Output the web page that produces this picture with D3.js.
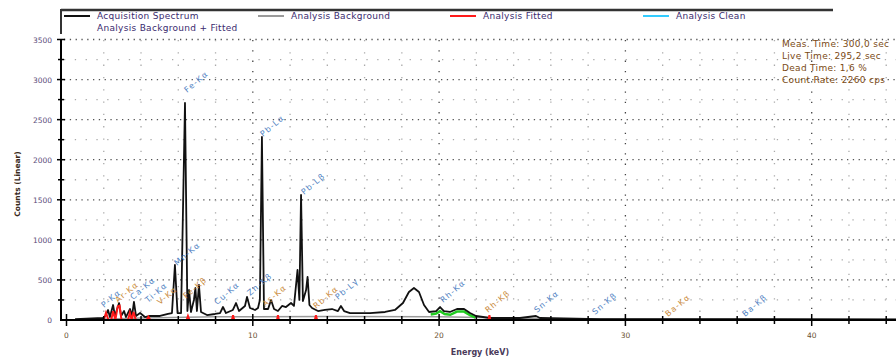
<!DOCTYPE html>
<html>
<head>
<meta charset="utf-8">
<script src="https://cdn.jsdelivr.net/npm/d3@7"></script>
<style>
  body { margin: 0; background: #fff; }
  svg { display: block; font-family: "DejaVu Sans", Verdana, sans-serif; }
</style>
</head>
<body>
<div id="chart"></div>
<script>
// acquisition spectrum (keV, counts)
const specEnergy = [0.46, 1.96, 2.12, 2.23, 2.33, 2.50, 2.60, 2.82, 2.93, 3.09, 3.19, 3.41, 3.52, 3.62, 3.73, 3.95, 4.21, 4.48, 5.02, 5.45, 5.66, 5.82, 5.96, 6.15, 6.36, 6.49, 6.58, 6.68, 6.84, 6.92, 7.00, 7.11, 7.22, 7.54, 7.97, 8.24, 8.40, 8.56, 8.93, 9.10, 9.26, 9.58, 9.69, 9.85, 10.12, 10.28, 10.38, 10.49, 10.60, 10.82, 10.98, 11.14, 11.35, 11.57, 11.78, 12.05, 12.21, 12.40, 12.50, 12.59, 12.69, 12.86, 12.94, 13.04, 13.18, 13.50, 13.87, 14.25, 14.57, 14.73, 14.90, 15.22, 16.29, 17.10, 17.63, 18.06, 18.38, 18.65, 18.92, 19.19, 19.46, 19.84, 20.05, 20.26, 20.58, 20.96, 21.34, 21.66, 21.98, 22.73, 24.34, 25.20, 25.41, 28.64, 29.71, 32.39, 34.00, 44.70];
const specCounts = [12, 25, 62, 125, 37, 187, 50, 212, 50, 112, 37, 137, 50, 225, 50, 87, 37, 50, 50, 75, 87, 686, 87, 87, 2708, 112, 374, 100, 250, 399, 112, 437, 100, 62, 75, 87, 162, 87, 125, 212, 112, 175, 287, 150, 125, 150, 250, 2284, 137, 137, 250, 137, 112, 175, 162, 212, 175, 624, 250, 1560, 237, 374, 537, 187, 150, 112, 125, 137, 112, 175, 112, 87, 87, 100, 125, 212, 349, 399, 349, 187, 100, 112, 162, 112, 100, 137, 137, 87, 50, 25, 25, 50, 25, 12, 12, 12, 12, 6];

// analysis background
const bgEnergy = [1.9, 4.0, 8.0, 14.0, 20.0, 26.0, 44.7];
const bgCounts = [10, 25, 40, 45, 40, 15, 5];

// analysis fitted
const fitEnergy = [2.00, 2.12, 2.25, 2.40, 2.50, 2.62, 2.75, 2.85, 2.95, 3.30, 3.40, 3.50, 3.60, 3.72, 4.30, 4.40, 4.50, 6.45, 6.52, 6.60, 8.88, 8.94, 9.00, 11.30, 11.35, 11.40, 13.33, 13.39, 13.45, 22.65, 22.70, 22.75, 44.70];
const fitCounts = [0, 90, 0, 0, 110, 0, 170, 180, 0, 0, 90, 0, 100, 0, 0, 40, 0, 0, 50, 0, 0, 60, 0, 0, 60, 0, 0, 60, 0, 0, 60, 0, 0];

// analysis background + fitted (only where it separates from the spectrum)
const bgFitEnergy = [19.55, 19.84, 20.05, 20.30, 20.60, 20.96, 21.34, 21.66, 21.95];
const bgFitCounts = [70, 80, 110, 75, 65, 105, 105, 60, 30];

// peak labels
const peakNames = ["P-Kα", "Ar-Kα", "Ca-Kα", "Ti-Kα", "V-Kα", "Mn-Kα", "Fe-Kα", "Fe-Kβ", "Cu-Kα", "Zn-Kβ", "As-Kα", "Pb-Lα", "Pb-Lβ", "Rb-Kα", "Pb-Lγ", "Rh-Kα", "Rh-Kβ", "Sn-Kα", "Sn-Kβ", "Ba-Kα", "Ba-Kβ"];
const peakEnergy = [2.01, 2.76, 3.57, 4.37, 5.02, 5.93, 6.47, 6.41, 8.08, 9.85, 10.65, 10.55, 12.75, 13.39, 14.57, 20.21, 22.62, 25.25, 28.37, 32.29, 36.42];
const peakCounts = [150, 212, 250, 212, 187, 674, 2833, 262, 187, 300, 162, 2284, 1560, 137, 250, 212, 87, 87, 62, 37, 37];

const yTicks = [0, 500, 1000, 1500, 2000, 2500, 3000, 3500];
const xTicks = [0, 10, 20, 30, 40];

const legendNames = ["Acquisition Spectrum", "Analysis Background", "Analysis Fitted", "Analysis Clean"];
const legendColors = ["#111", "#9a9a9a", "#ff1a1a", "#33ccff"];
const infoLines = ["Meas. Time: 300,0 sec", "Live Time: 295,2 sec", "Dead Time: 1,6 %", "Count Rate: 2260 cps"];

const width = 896;
const height = 360;

const svg = d3.select("#chart")
  .append("svg")
  .attr("width", width)
  .attr("height", height);

const x = d3.scaleLinear().domain([0, 40]).range([66.5, 811.7]);
const y = d3.scaleLinear().domain([0, 3500]).range([320, 39.5]);

// dotted grid
const grid = svg.append("g");
grid.selectAll("line.h")
  .data(d3.range(250, 3501, 250))
  .enter()
  .append("line")
  .attr("x1", 64).attr("x2", width)
  .attr("y1", d => y(d)).attr("y2", d => y(d))
  .attr("stroke", d => d % 500 === 0 ? "#555" : "#aaa")
  .attr("stroke-width", 1.3)
  .attr("stroke-dasharray", d => d % 500 === 0 ? "1.3,4.5" : "1.3,9.5");

grid.selectAll("line.v")
  .data(d3.range(2, 46, 2))
  .enter()
  .append("line")
  .attr("x1", d => x(d)).attr("x2", d => x(d))
  .attr("y1", 40).attr("y2", 318)
  .attr("stroke", d => d % 10 === 0 ? "#444" : "#aaa")
  .attr("stroke-width", 1.3)
  .attr("stroke-dasharray", d => d % 10 === 0 ? "1.3,9" : "1.3,11");

// curves
const line = d3.line().x(d => x(d[0])).y(d => y(d[1]));

svg.append("path")
  .attr("d", line(d3.zip(bgEnergy, bgCounts)))
  .attr("fill", "none")
  .attr("stroke", "#9a9a9a")
  .attr("stroke-width", 1.5);

svg.append("path")
  .attr("d", line(d3.zip(bgFitEnergy, bgFitCounts)))
  .attr("fill", "none")
  .attr("stroke", "#22cc22")
  .attr("stroke-width", 2.5);

svg.append("path")
  .attr("d", line(d3.zip(specEnergy, specCounts)))
  .attr("fill", "none")
  .attr("stroke", "#111")
  .attr("stroke-width", 1.8)
  .attr("stroke-linejoin", "round");

svg.append("path")
  .attr("d", line(d3.zip(fitEnergy, fitCounts)))
  .attr("fill", "none")
  .attr("stroke", "#ff1a1a")
  .attr("stroke-width", 2);

// axes
svg.append("line")
  .attr("x1", 61).attr("x2", 61).attr("y1", 40).attr("y2", 321)
  .attr("stroke", "#000").attr("stroke-width", 2);
svg.append("line")
  .attr("x1", 60).attr("x2", width).attr("y1", 320).attr("y2", 320)
  .attr("stroke", "#000").attr("stroke-width", 2);

// y ticks
svg.selectAll("line.ytm")
  .data(d3.range(250, 3501, 250))
  .enter()
  .append("line")
  .attr("x1", d => d % 500 === 0 ? 57 : 58).attr("x2", d => d % 500 === 0 ? 65 : 64)
  .attr("y1", d => y(d)).attr("y2", d => y(d))
  .attr("stroke", "#000").attr("stroke-width", 1.5);

svg.selectAll("text.yl")
  .data(yTicks)
  .enter()
  .append("text")
  .attr("x", 52)
  .attr("y", d => y(d) + 3)
  .attr("text-anchor", "end")
  .attr("font-size", 7.5)
  .attr("fill", "#5b4b7a")
  .text(d => d);

// x ticks
svg.selectAll("line.xt")
  .data(d3.range(0, 46, 2))
  .enter()
  .append("line")
  .attr("x1", d => x(d)).attr("x2", d => x(d))
  .attr("y1", d => d % 10 === 0 ? 314 : 316).attr("y2", d => d % 10 === 0 ? 326 : 324)
  .attr("stroke", "#000").attr("stroke-width", 1.5);

svg.selectAll("text.xl")
  .data(xTicks)
  .enter()
  .append("text")
  .attr("x", d => x(d))
  .attr("y", 338)
  .attr("text-anchor", "middle")
  .attr("font-size", 7.5)
  .attr("fill", "#6a5030")
  .text(d => d);

// axis titles
svg.append("text")
  .attr("transform", "translate(20,184) rotate(-90)")
  .attr("text-anchor", "middle")
  .attr("font-size", 7.5)
  .attr("font-weight", "bold")
  .attr("fill", "#3a2a1a")
  .text("Counts (Linear)");

svg.append("text")
  .attr("x", 480)
  .attr("y", 355)
  .attr("text-anchor", "middle")
  .attr("font-size", 8)
  .attr("font-weight", "bold")
  .attr("fill", "#4a3a5a")
  .text("Energy (keV)");

// peak labels
svg.selectAll("text.peak")
  .data(d3.zip(peakNames, peakEnergy, peakCounts))
  .enter()
  .append("text")
  .attr("transform", d => `translate(${x(d[1])},${y(d[2])}) rotate(-40)`)
  .attr("font-size", 8)
  .attr("letter-spacing", 1.2)
  .attr("fill", (d, i) => i % 3 === 1 ? "#c98a3a" : "#4f7fc2")
  .text(d => d[0]);

// legend box (top and left borders)
svg.append("line")
  .attr("x1", 61).attr("x2", 833).attr("y1", 10).attr("y2", 10)
  .attr("stroke", "#333").attr("stroke-width", 2.5);
svg.append("line")
  .attr("x1", 61).attr("x2", 61).attr("y1", 9).attr("y2", 34)
  .attr("stroke", "#333").attr("stroke-width", 2);

const legendX = [64, 258, 450, 643];
const legend = svg.append("g");
legendNames.forEach((name, i) => {
  legend.append("line")
    .attr("x1", legendX[i]).attr("x2", legendX[i] + 26)
    .attr("y1", 16).attr("y2", 16)
    .attr("stroke", legendColors[i]).attr("stroke-width", 2);
  legend.append("text")
    .attr("x", legendX[i] + 33)
    .attr("y", 19)
    .attr("font-size", 9)
    .attr("letter-spacing", 0.3)
    .attr("fill", "#3a2a6e")
    .text(name);
});
legend.append("text")
  .attr("x", 97)
  .attr("y", 31)
  .attr("font-size", 9)
  .attr("letter-spacing", 0.3)
  .attr("fill", "#3a2a6e")
  .text("Analysis Background + Fitted");

// measurement info
svg.selectAll("text.info")
  .data(infoLines)
  .enter()
  .append("text")
  .attr("x", 782)
  .attr("y", (d, i) => 47 + i * 12)
  .attr("font-size", 9)
  .attr("letter-spacing", 0.3)
  .attr("fill", "#7a4a14")
  .text(d => d);
</script>
</body>
</html>
